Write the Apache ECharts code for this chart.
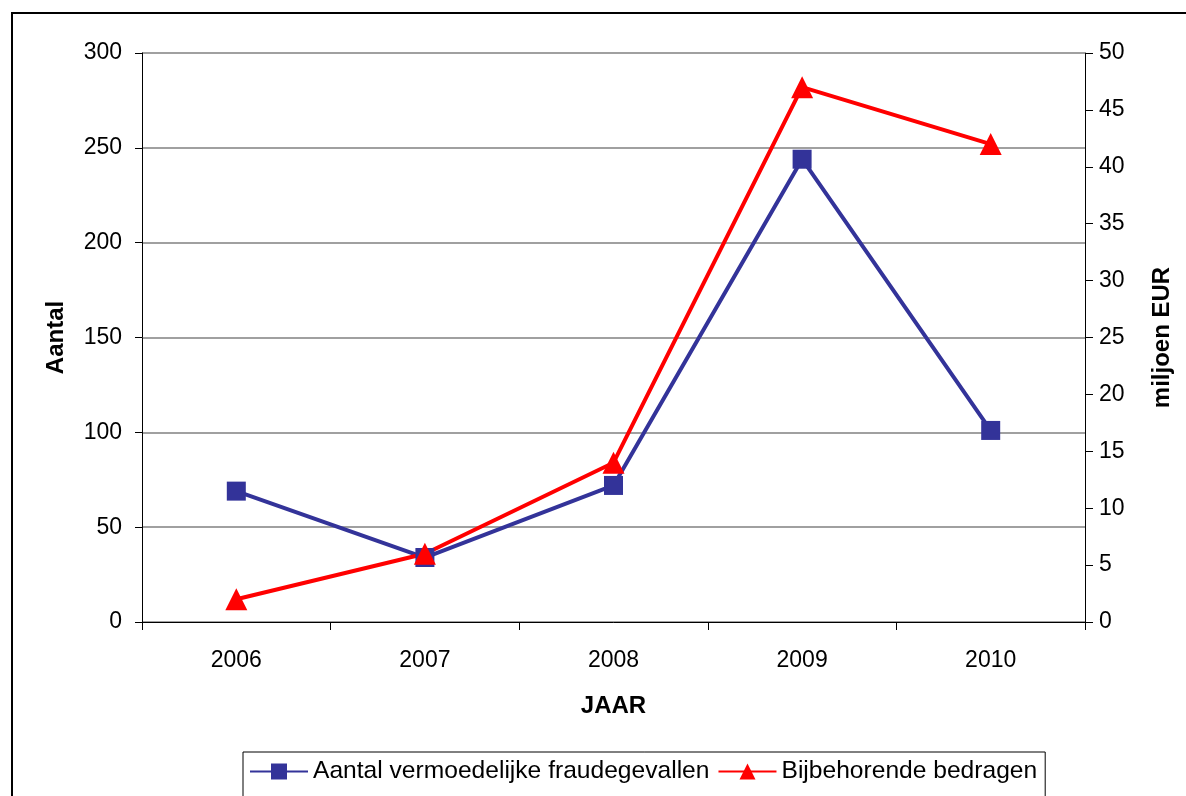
<!DOCTYPE html>
<html>
<head>
<meta charset="utf-8">
<script src="https://cdn.jsdelivr.net/npm/echarts@6/dist/echarts.min.js"></script>
<style>
  html, body { margin: 0; padding: 0; background: #fff; }
  #frame { position: absolute; left: 11px; top: 12px; width: 1200px; height: 820px; border: 2px solid #000; box-sizing: border-box; }
  #chart { position: absolute; left: 0; top: 0; width: 1186px; height: 796px; }
</style>
</head>
<body>
<div id="frame"></div>
<div id="chart"></div>
<script>
// Years on the category axis
const years = ['2006', '2007', '2008', '2009', '2010'];
// Number of suspected fraud cases (left axis)
const aantal = [69, 34, 72, 244, 101];
// Associated amounts in million EUR (right axis)
const bedragen = [2, 6, 14, 47, 42];

const seriesNames = ['Aantal vermoedelijke fraudegevallen', 'Bijbehorende bedragen'];
const font = 'Liberation Sans, Arial, sans-serif';

const chart = echarts.init(document.getElementById('chart'));
chart.setOption({
  animation: false,
  backgroundColor: 'transparent',
  grid: { left: 142, right: 101, top: 53, bottom: 174 },
  legend: {
    left: 243,
    top: 752,
    padding: [7, 8, 16, 6],
    borderColor: '#000',
    borderWidth: 1,
    itemGap: 8,
    itemWidth: 58,
    itemHeight: 20,
    textStyle: { fontFamily: font, fontSize: 24.6, color: '#000' },
    data: seriesNames
  },
  xAxis: {
    type: 'category',
    data: years,
    boundaryGap: true,
    name: 'JAAR',
    nameLocation: 'middle',
    nameGap: 72,
    nameTextStyle: { fontFamily: font, fontSize: 24, fontWeight: 'bold', color: '#000' },
    axisLine: { lineStyle: { color: '#000', width: 1 } },
    axisTick: { show: true, length: 8, alignWithLabel: false, lineStyle: { color: '#000' } },
    axisLabel: { fontFamily: font, fontSize: 23, color: '#000', margin: 27 }
  },
  yAxis: [
    {
      type: 'value',
      min: 0, max: 300, interval: 50,
      name: 'Aantal',
      nameLocation: 'middle',
      nameGap: 74,
      nameTextStyle: { fontFamily: font, fontSize: 24, fontWeight: 'bold', color: '#000' },
      axisLine: { show: true, lineStyle: { color: '#000', width: 1 } },
      axisTick: { show: true, length: 7, lineStyle: { color: '#000' } },
      axisLabel: { fontFamily: font, fontSize: 23, color: '#000', margin: 20 },
      splitLine: { show: true, lineStyle: { color: '#808080', width: 1.5 } }
    },
    {
      type: 'value',
      position: 'right',
      min: 0, max: 50, interval: 5,
      name: 'miljoen EUR',
      nameLocation: 'middle',
      nameGap: 65,
      nameTextStyle: { fontFamily: font, fontSize: 24, fontWeight: 'bold', color: '#000' },
      axisLine: { show: true, lineStyle: { color: '#000', width: 1 } },
      axisTick: { show: true, length: 8, lineStyle: { color: '#000' } },
      axisLabel: { fontFamily: font, fontSize: 23, color: '#000', margin: 14 },
      splitLine: { show: false }
    }
  ],
  series: [
    {
      name: seriesNames[0],
      type: 'line',
      yAxisIndex: 0,
      data: aantal,
      symbol: 'rect',
      symbolSize: 19,
      color: '#333399',
      lineStyle: { color: '#333399', width: 4 },
      itemStyle: { color: '#333399' }
    },
    {
      name: seriesNames[1],
      type: 'line',
      yAxisIndex: 1,
      data: bedragen,
      symbol: 'triangle',
      symbolSize: 22,
      color: '#ff0000',
      lineStyle: { color: '#ff0000', width: 4 },
      itemStyle: { color: '#ff0000' }
    }
  ]
});
</script>
</body>
</html>
